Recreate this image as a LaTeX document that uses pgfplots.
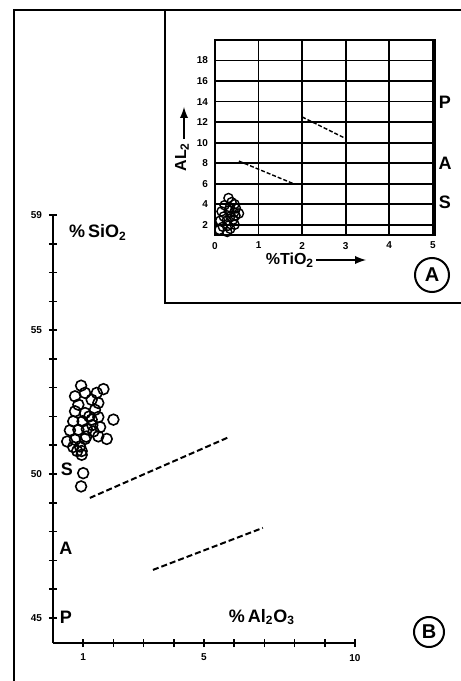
\documentclass[border=0pt]{standalone}
\usepackage{fontspec}
\setmainfont{Liberation Sans}
\usepackage{pgfplots}
\pgfplotsset{compat=1.18}
\begin{document}
\begin{tikzpicture}
\path[use as bounding box] (0,0) rectangle (230.5pt,340.5pt);
% frames
\draw[line width=1.4pt] (7pt,0) -- (7pt,335.5pt) -- (230.5pt,335.5pt);
\draw[line width=1pt] (82.5pt,335.5pt) -- (82.5pt,189pt) -- (230.5pt,189pt);
% main plot B
\begin{axis}[at={(26.5pt,19pt)}, anchor=south west, scale only axis,
  width=151pt, height=214pt,
  xmin=0, xmax=10, ymin=44.13, ymax=59,
  axis x line*=bottom, axis y line*=left,
  xtick={1,5,10}, minor xtick={2,3,4,6,7,8,9},
  ytick={45,50,55,59}, minor ytick={46,47,48,49,51,52,53,54,56,57,58},
  tick align=center, major tick length=4pt, minor tick length=4pt,
  tick style={line width=0.8pt, black},
  axis line style={line width=1pt},
  ticklabel style={font=\fontsize{5}{6}\selectfont\bfseries},
  /pgf/number format/assume math mode=true,
  clip=false]
\addplot[only marks, mark=o, mark size=2.7pt, mark options={line width=0.8pt}] coordinates {
(0.93,53.07) (1.67,52.95) (0.73,52.70) (1.06,52.82) (1.45,52.82) (1.28,52.58)
(0.84,52.41) (1.50,52.47) (0.73,52.18) (1.06,52.12) (1.39,52.23) (1.50,51.98)
(2.00,51.89) (0.67,51.83) (0.98,51.83) (1.28,51.89) (1.56,51.63) (0.56,51.52)
(0.84,51.54) (1.12,51.56) (1.34,51.48) (1.78,51.22) (0.47,51.13) (0.73,51.19)
(1.06,51.22) (1.50,51.31) (0.67,50.94) (0.89,50.96) (0.95,50.67) (1.00,50.03)
(0.93,49.57) (1.20,52.00) (1.30,51.70) (1.10,51.30) (0.80,50.80) (0.95,50.80)
};
\addplot[line width=1pt, dash pattern=on 3pt off 1.5pt] coordinates {(1.22,49.17) (5.86,51.3)};
\addplot[line width=1pt, dash pattern=on 3pt off 1.5pt] coordinates {(3.31,46.67) (6.95,48.13)};
\node[font=\fontsize{9}{10}\selectfont\bfseries] at (axis cs:0.46,50.15) {S};
\node[font=\fontsize{9}{10}\selectfont\bfseries] at (axis cs:0.43,47.43) {A};
\node[font=\fontsize{9}{10}\selectfont\bfseries] at (axis cs:0.43,45.03) {P};
\node[font=\fontsize{9}{10}\selectfont\bfseries] at (axis cs:1.49,58.39) {\%\,SiO\textsubscript{2}};
\node[font=\fontsize{9}{10}\selectfont\bfseries] at (axis cs:6.92,45.03) {\%\,Al\textsubscript{2}O\textsubscript{3}};
\end{axis}
% inset A
\begin{axis}[at={(107.5pt,223pt)}, anchor=south west, scale only axis,
  width=110pt, height=97.5pt,
  xmin=0, xmax=5.05, ymin=1, ymax=20,
  xtick={0,...,5}, ytick={2,4,...,18},
  grid=major, grid style={line width=0.9pt, black},
  major tick length=0pt,
  axis line style={line width=1pt},
  ticklabel style={font=\fontsize{5}{6}\selectfont\bfseries},
  /pgf/number format/assume math mode=true,
  clip=false]
\addplot[only marks, mark=o, mark size=2.3pt, mark options={line width=0.7pt}] coordinates {
(0.31,4.6) (0.38,4.2) (0.45,4.0) (0.22,3.9) (0.34,3.7) (0.48,3.6) (0.15,3.3)
(0.32,3.4) (0.44,3.2) (0.55,3.1) (0.20,2.8) (0.35,2.8) (0.47,2.9) (0.12,2.4)
(0.27,2.4) (0.42,2.5) (0.18,1.8) (0.30,1.9) (0.45,2.0) (0.10,1.5) (0.28,1.3)
(0.35,1.6)
};
\addplot[line width=0.7pt, dash pattern=on 2pt off 1pt] coordinates {(0.55,8.2) (1.8,6.0)};
\addplot[line width=0.7pt, dash pattern=on 2pt off 1pt] coordinates {(2.0,12.5) (3.0,10.4)};
\end{axis}
% inset labels
\node[font=\fontsize{8}{9}\selectfont\bfseries] at (145pt,210.5pt) {\%TiO\textsubscript{2}};
\draw[line width=0.9pt,-latex] (158pt,210.5pt) -- (183pt,210.5pt);
\node[font=\fontsize{8}{9}\selectfont\bfseries, rotate=90] at (91pt,262pt) {AL\textsubscript{2}};
\draw[line width=0.9pt,-latex] (92pt,271pt) -- (92pt,287pt);
\node[font=\fontsize{9}{10}\selectfont\bfseries] at (222.5pt,289.5pt) {P};
\node[font=\fontsize{9}{10}\selectfont\bfseries] at (222.5pt,259pt) {A};
\node[font=\fontsize{9}{10}\selectfont\bfseries] at (222.5pt,239.5pt) {S};
% circled letters
\draw[line width=1pt] (216pt,203pt) circle (8.5pt);
\node[font=\fontsize{10}{11}\selectfont\bfseries] at (216pt,203pt) {A};
\draw[line width=1pt] (214.5pt,24.5pt) circle (7.5pt);
\node[font=\fontsize{10}{11}\selectfont\bfseries] at (214.5pt,24.5pt) {B};
\end{tikzpicture}
\end{document}
